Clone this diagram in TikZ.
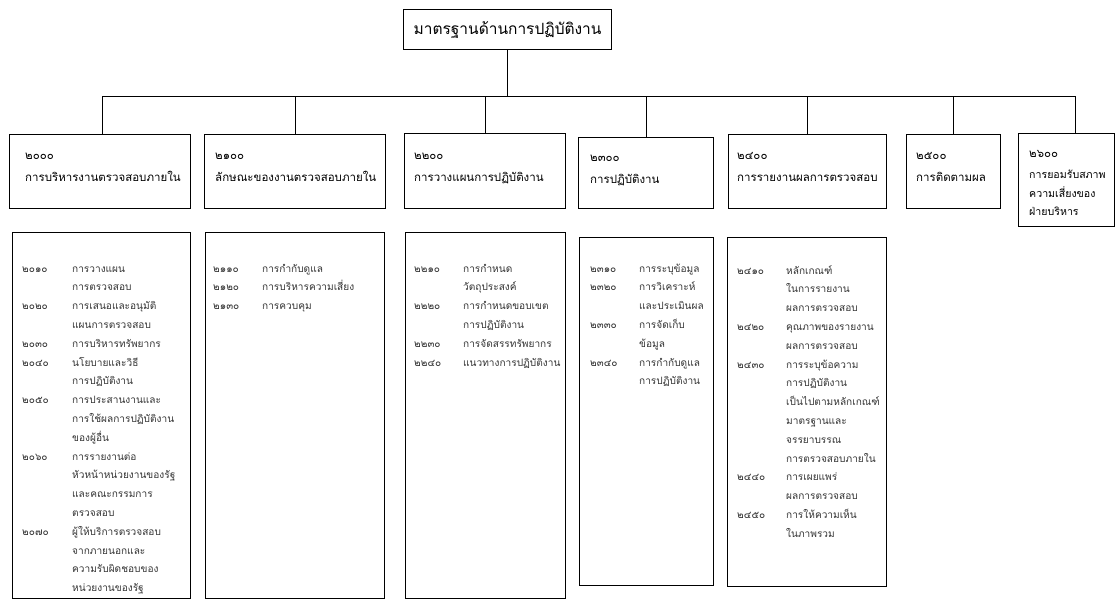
\documentclass[tikz,border=0pt]{standalone}
\usepackage{fontspec}
\setmainfont[Script=Thai]{Loma}
\begin{document}
\begin{tikzpicture}[x=1pt,y=-1pt,
  box/.style={draw, line width=1.1pt, inner sep=0pt, anchor=north west},
  ttl/.style={anchor=base west, inner sep=0pt, font=\fontsize{11.5}{13}\selectfont},
  det/.style={anchor=base west, inner sep=0pt, text=black!80, font=\fontsize{10.1}{12}\selectfont},
  conn/.style={line width=0.8pt}]
\useasboundingbox (0,0) rectangle (1118,603);
% top
\node[box, minimum width=208pt, minimum height=40pt, font=\fontsize{15.5}{17}\selectfont] (top) at (403,9) {มาตรฐานด้านการปฏิบัติงาน};
% headers
\node[box, minimum width=181pt, minimum height=74pt] (h1) at (9,134) {};
\node[box, minimum width=181pt, minimum height=74pt] (h2) at (204,134) {};
\node[box, minimum width=161pt, minimum height=75pt] (h3) at (404,133) {};
\node[box, minimum width=135pt, minimum height=71pt] (h4) at (578,137) {};
\node[box, minimum width=158pt, minimum height=74pt] (h5) at (728,134) {};
\node[box, minimum width=94pt, minimum height=74pt] (h6) at (906,134) {};
\node[box, minimum width=96pt, minimum height=93pt] (h7) at (1018,133) {};
% bus
\coordinate (busL) at (102,96);
\coordinate (busR) at (1075,96);
\draw[conn] (busL) -- (busR);
\draw[conn] (top.south) -- (top.south |- busL);
\draw[conn] (busL) -- (h1.north -| busL);
\foreach \h in {h2,h3,h4,h5,h6} \draw[conn] (\h.north |- busL) -- (\h.north);
\draw[conn] (busR) -- (h7.north -| busR);
% header texts
\node[ttl] (n1) at (25,159) {๒๐๐๐};
\node[ttl] (t1) at (25,181) {การบริหารงานตรวจสอบภายใน};
\node[ttl] (n2) at (215,159) {๒๑๐๐};
\node[ttl] (t2) at (215,181) {ลักษณะของงานตรวจสอบภายใน};
\node[ttl] (n3) at (414,159) {๒๒๐๐};
\node[ttl] (t3) at (414,181) {การวางแผนการปฏิบัติงาน};
\node[ttl] (n4) at (590,161) {๒๓๐๐};
\node[ttl] (t4) at (590,183) {การปฏิบัติงาน};
\node[ttl] (n5) at (737,159) {๒๔๐๐};
\node[ttl] (t5) at (737,181) {การรายงานผลการตรวจสอบ};
\node[ttl] (n6) at (916,159) {๒๕๐๐};
\node[ttl] (t6) at (916,181) {การติดตามผล};
\node[ttl] (n7) at (1029,157) {๒๖๐๐};
\node[ttl, font=\fontsize{10.6}{12}\selectfont] (t7a) at (1029,178) {การยอมรับสภาพ};
\node[ttl, font=\fontsize{10.6}{12}\selectfont] (t7b) at (1029,197) {ความเสี่ยงของ};
\node[ttl, font=\fontsize{10.6}{12}\selectfont] (t7c) at (1029,215) {ฝ่ายบริหาร};
% detail boxes
\node[box, minimum width=178pt, minimum height=366pt] (d1) at (12,232) {};
\node[box, minimum width=179pt, minimum height=366pt] (d2) at (205,232) {};
\node[box, minimum width=160pt, minimum height=366pt] (d3) at (405,232) {};
\node[box, minimum width=134pt, minimum height=348pt] (d4) at (579,237) {};
\node[box, minimum width=159pt, minimum height=349pt] (d5) at (727,237) {};
% detail lines
\foreach \n/\t [count=\i] in {๒๐๑๐/การวางแผน, /การตรวจสอบ, ๒๐๒๐/การเสนอและอนุมัติ, /แผนการตรวจสอบ, ๒๐๓๐/การบริหารทรัพยากร, ๒๐๔๐/นโยบายและวิธี, /การปฏิบัติงาน, ๒๐๕๐/การประสานงานและ, /การใช้ผลการปฏิบัติงาน, /ของผู้อื่น, ๒๐๖๐/การรายงานต่อ, /หัวหน้าหน่วยงานของรัฐ, /และคณะกรรมการ, /ตรวจสอบ, ๒๐๗๐/ผู้ให้บริการตรวจสอบ, /จากภายนอกและ, /ความรับผิดชอบของ, /หน่วยงานของรัฐ}
{\node[det] (a\i) at (22,{272+(\i-1)*18.8}) {\n}; \node[det] (b\i) at (72,{272+(\i-1)*18.8}) {\t};}
\foreach \n/\t [count=\i] in {๒๑๑๐/การกำกับดูแล, ๒๑๒๐/การบริหารความเสี่ยง, ๒๑๓๐/การควบคุม}
{\node[det] (c\i) at (213,{272+(\i-1)*18.8}) {\n}; \node[det] (e\i) at (262,{272+(\i-1)*18.8}) {\t};}
\foreach \n/\t [count=\i] in {๒๒๑๐/การกำหนด, /วัตถุประสงค์, ๒๒๒๐/การกำหนดขอบเขต, /การปฏิบัติงาน, ๒๒๓๐/การจัดสรรทรัพยากร, ๒๒๔๐/แนวทางการปฏิบัติงาน}
{\node[det] (f\i) at (414,{272+(\i-1)*18.8}) {\n}; \node[det] (g\i) at (463,{272+(\i-1)*18.8}) {\t};}
\foreach \n/\t [count=\i] in {๒๓๑๐/การระบุข้อมูล, ๒๓๒๐/การวิเคราะห์, /และประเมินผล, ๒๓๓๐/การจัดเก็บ, /ข้อมูล, ๒๓๔๐/การกำกับดูแล, /การปฏิบัติงาน}
{\node[det] (p\i) at (590,{272+(\i-1)*18.8}) {\n}; \node[det] (q\i) at (639,{272+(\i-1)*18.8}) {\t};}
\foreach \n/\t [count=\i] in {๒๔๑๐/หลักเกณฑ์, /ในการรายงาน, /ผลการตรวจสอบ, ๒๔๒๐/คุณภาพของรายงาน, /ผลการตรวจสอบ, ๒๔๓๐/การระบุข้อความ, /การปฏิบัติงาน, /เป็นไปตามหลักเกณฑ์, /มาตรฐานและ, /จรรยาบรรณ, /การตรวจสอบภายใน, ๒๔๔๐/การเผยแพร่, /ผลการตรวจสอบ, ๒๔๕๐/การให้ความเห็น, /ในภาพรวม}
{\node[det] (r\i) at (737,{274+(\i-1)*18.8}) {\n}; \node[det] (s\i) at (786,{274+(\i-1)*18.8}) {\t};}
\end{tikzpicture}
\end{document}
